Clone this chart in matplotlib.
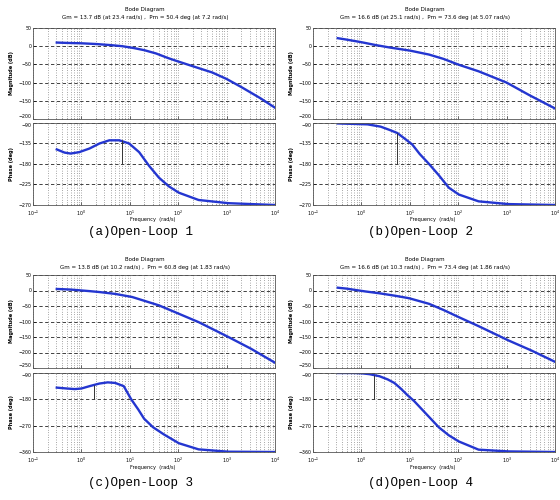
import numpy as np
import matplotlib
matplotlib.use("Agg")
import matplotlib.pyplot as plt
from matplotlib.ticker import LogLocator, FixedLocator

# ---- data (frequency in rad/s) ----
w_mag_a = [0.31, 0.5, 1.0, 2.0, 4.0, 7.0, 12, 20, 35, 60, 100, 200, 500, 1000, 2000, 5000, 10000]
mag_a = [10, 9, 8, 6, 3, 0, -5, -11, -20, -32, -42, -55, -72, -90, -112, -143, -169]
w_ph_a = [0.31, 0.45, 0.6, 0.9, 1.47, 2.36, 3.78, 6.07, 9.7, 15.6, 25, 40, 64, 103, 264, 1090, 10000]
ph_a = [-148, -155, -157, -154, -146, -135, -128, -128, -135, -154, -184, -210, -229, -243, -259, -266, -270]

w_mag_b = [0.325, 0.5, 1.0, 2.0, 4.0, 10, 25, 50, 103, 264, 1000, 3000, 10000]
mag_b = [22, 18, 11, 3, -4, -12, -23, -35, -51, -69, -100, -135, -171]
w_ph_b = [0.325, 0.7, 1.34, 2.5, 3.78, 5.52, 8, 11.2, 16, 25, 40, 64, 103, 264, 1090, 10000]
ph_b = [-91, -92, -93, -98, -105, -112, -125, -137, -158, -180, -205, -232, -247, -262, -268, -270]

w_mag_c = [0.31, 0.6, 1.47, 2.36, 5, 11.2, 25, 40, 103, 264, 1090, 3200, 10000]
mag_c = [5, 3, -2, -5, -11, -21, -38, -48, -75, -102, -150, -188, -233]
w_ph_c = [0.31, 0.5, 0.73, 1.0, 1.47, 2.36, 3.5, 5.0, 7.5, 10.7, 15, 19.7, 30, 50.7, 103, 264, 1090, 10000]
ph_c = [-140, -143, -145, -143, -135, -126, -122, -124, -135, -180, -215, -246, -275, -300, -330, -351, -359, -360]

w_mag_d = [0.325, 0.5, 0.73, 1.2, 2.36, 5, 9.7, 25, 50, 103, 264, 1090, 3200, 10000]
mag_d = [9, 6, 2, -3, -9, -17, -25, -43, -63, -86, -115, -161, -193, -230]
w_ph_d = [0.325, 0.7, 1.0, 1.47, 2.36, 3.5, 4.79, 6.5, 8.85, 12.3, 19.7, 40, 64, 103, 264, 1090, 10000]
ph_d = [-90, -90, -91, -94, -101, -112, -124, -143, -165, -186, -222, -276, -303, -324, -352, -358, -360]

# phase-margin marker: (frequency, bottom, top)
pm_marks = [(7.0, -180, -128), (5.52, -180, -111), (1.86, -180, -130), (1.86, -180, -97)]

margin_texts = [
    "Gm = 13.7 dB (at 23.4 rad/s) ,  Pm = 50.4 deg (at 7.2 rad/s)",
    "Gm = 16.6 dB (at 25.1 rad/s) ,  Pm = 73.6 deg (at 5.07 rad/s)",
    "Gm = 13.8 dB (at 10.2 rad/s) ,  Pm = 60.8 deg (at 1.83 rad/s)",
    "Gm = 16.6 dB (at 10.3 rad/s) ,  Pm = 73.4 deg (at 1.86 rad/s)",
]
captions = ["(a)Open-Loop 1", "(b)Open-Loop 2", "(c)Open-Loop 3", "(d)Open-Loop 4"]

mag_ticks_top = [50, 0, -50, -100, -150, -200]
mag_ticks_bot = [50, 0, -50, -100, -150, -200, -250]
ph_ticks_top = [-90, -135, -180, -225, -270]
ph_ticks_bot = [-90, -180, -270, -360]

W, H = 560, 500
LINE = "#2436d0"
TICK_FS = 3.4


def fx(px):
    return px / W


def fy(py):
    return 1 - py / H


def style_axis(ax, yticks, show_x):
    ax.set_xscale("log")
    ax.set_xlim(0.1, 1e4)
    ax.set_ylim(min(yticks), max(yticks))
    ax.yaxis.set_major_locator(FixedLocator(yticks))
    ax.xaxis.set_major_locator(LogLocator(base=10, numticks=10))
    ax.xaxis.set_minor_locator(LogLocator(base=10, subs=np.arange(2, 10), numticks=50))
    ax.tick_params(which="both", direction="in", labelsize=TICK_FS, length=2, width=0.4, pad=1)
    ax.tick_params(axis="x", pad=2.5)
    ax.tick_params(which="minor", length=1)
    ax.grid(True, which="major", axis="y", ls=(0, (4, 3)), color="#222222", lw=0.6)
    ax.grid(True, which="both", axis="x", ls=(0, (1, 2.5)), color="#555555", lw=0.5)
    for s in ax.spines.values():
        s.set_linewidth(0.6)
        s.set_color("#555555")
    if not show_x:
        ax.tick_params(labelbottom=False)


def draw_panel(fig, ox, rows, data, yt_mag, yt_ph, mark, gm_text, caption):
    (mag_top, mag_bot, ph_top, ph_bot, title_y, xlab_y, cap_y) = rows
    left, right = ox + 33, ox + 275
    ax_m = fig.add_axes([fx(left), fy(mag_bot), fx(right - left), (mag_bot - mag_top) / H])
    ax_p = fig.add_axes([fx(left), fy(ph_bot), fx(right - left), (ph_bot - ph_top) / H])
    wm, m, wp, p = data
    ax_m.plot(wm, m, color=LINE, lw=1.7)
    ax_p.plot(wp, p, color=LINE, lw=1.7)
    ax_p.vlines(mark[0], mark[1], mark[2], color="#333333", lw=0.7)
    style_axis(ax_m, yt_mag, False)
    style_axis(ax_p, yt_ph, True)
    # keep the touching end labels of the two axes apart
    fig.canvas.draw()
    ax_m.get_yticklabels()[-1 if yt_mag[-1] < yt_mag[0] else 0].set_va("bottom")
    ax_p.get_yticklabels()[0].set_va("top")
    ax_m.set_ylabel("Magnitude (dB)", fontsize=3.6, fontweight="bold", labelpad=3)
    ax_p.set_ylabel("Phase (deg)", fontsize=3.6, fontweight="bold", labelpad=3)
    cx = ox + 145
    fig.text(fx(cx), fy(title_y), "Bode Diagram", ha="center", va="center", fontsize=4)
    fig.text(fx(cx), fy(title_y + 7), gm_text, ha="center", va="center", fontsize=4)
    fig.text(fx(ox + 153), fy(xlab_y), "Frequency  (rad/s)", ha="center", va="center", fontsize=3.6)
    fig.text(fx(ox + 140), fy(cap_y), caption, ha="center", va="center",
             fontsize=9, family="Liberation Mono")


fig = plt.figure(figsize=(W / 100, H / 100), dpi=100, facecolor="white")

top_rows = (28, 119, 123, 205, 10, 220, 232)
bot_rows = (275, 368, 373, 452, 260, 467, 483)

panels = [
    (0, top_rows, (w_mag_a, mag_a, w_ph_a, ph_a), mag_ticks_top, ph_ticks_top),
    (280, top_rows, (w_mag_b, mag_b, w_ph_b, ph_b), mag_ticks_top, ph_ticks_top),
    (0, bot_rows, (w_mag_c, mag_c, w_ph_c, ph_c), mag_ticks_bot, ph_ticks_bot),
    (280, bot_rows, (w_mag_d, mag_d, w_ph_d, ph_d), mag_ticks_bot, ph_ticks_bot),
]

for i, (ox, rows, data, ytm, ytp) in enumerate(panels):
    draw_panel(fig, ox, rows, data, ytm, ytp, pm_marks[i], margin_texts[i], captions[i])

fig.savefig("out.png", dpi=100, facecolor="white")
